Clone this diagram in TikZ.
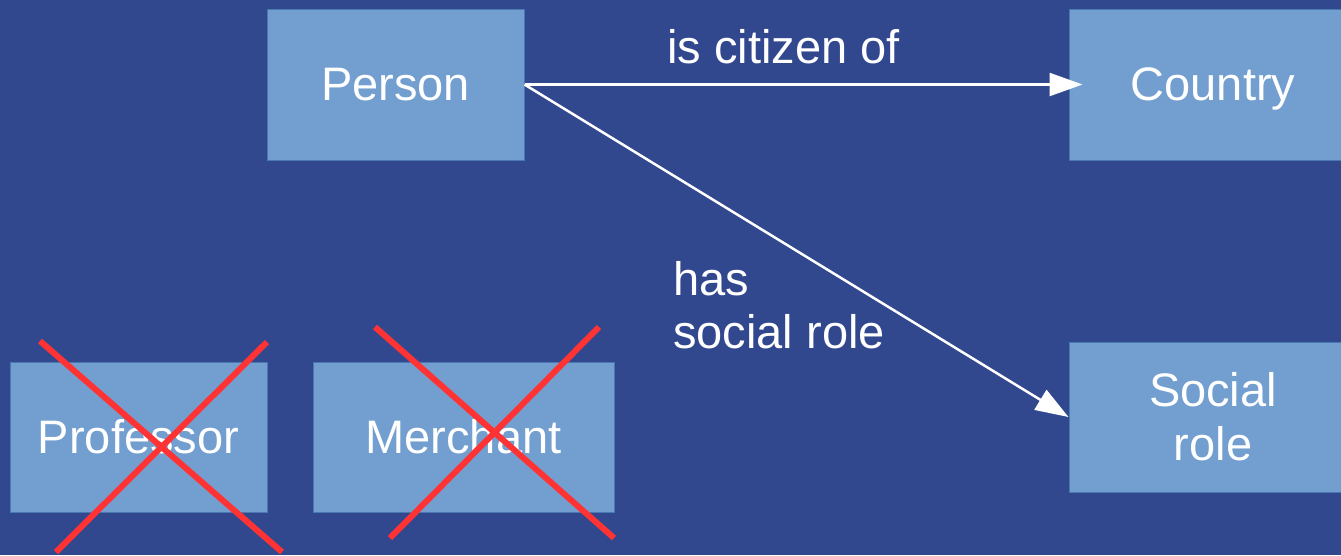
\documentclass[tikz,border=0pt]{standalone}
\usepackage{fontspec}
\setmainfont{Liberation Sans}
\usetikzlibrary{arrows.meta}
\definecolor{bgblue}{HTML}{31488F}
\definecolor{boxfill}{HTML}{729FCF}
\definecolor{boxline}{HTML}{4A78B0}
\definecolor{crossred}{HTML}{FF3333}
\tikzset{
  box/.style={draw=boxline, line width=1pt, fill=boxfill, text=white, inner sep=0pt,
    font=\fontsize{47}{54}\selectfont, align=center},
  oneline/.style={text height=33pt, text depth=2pt},
  rel/.style={draw=white, line width=2.5pt, -{Triangle[length=33pt,width=23pt]}},
  lbl/.style={text=white, inner sep=0pt, font=\fontsize{47}{53}\selectfont},
  strike/.style={draw=crossred, line width=6pt}
}
\begin{document}
\begin{tikzpicture}[x=1pt,y=-1pt]
\useasboundingbox (0,0) rectangle (1341,555);
\fill[bgblue] (0,0) rectangle (1341,555);
\node[box, oneline, minimum width=257pt, minimum height=151pt] (person) at (395.5,84.5) {Person};
\node[box, oneline, minimum width=288pt, minimum height=151pt] (country) at (1213,84.5) {Country};
\node[box, minimum width=288pt, minimum height=150pt] (social) at (1213,417) {Social\\role};
\node[box, oneline, minimum width=257pt, minimum height=150pt] (prof) at (138.5,437.5) {Professor};
\node[box, oneline, minimum width=301pt, minimum height=150pt] (merch) at (463.5,437.5) {Merchant};
\draw[rel] (person.east) -- ([xshift=14pt]country.west);
\draw[rel] (person.east) -- (social.west);
\node[lbl, anchor=base] (lcit) at (783.5,63) {is citizen of};
\node[lbl, anchor=base west, align=left] (lsoc) at (673,348) {has\\social role};
\coordinate (p1) at (40,341);
\coordinate (p2) at (282,552);
\coordinate (p3) at (267,342);
\coordinate (p4) at (56,552);
\coordinate (m1) at (375,327);
\coordinate (m2) at (614,538);
\coordinate (m3) at (599,327);
\coordinate (m4) at (390,538);
\draw[strike] (p1) -- (p2);
\draw[strike] (p3) -- (p4);
\draw[strike] (m1) -- (m2);
\draw[strike] (m3) -- (m4);
\end{tikzpicture}
\end{document}
